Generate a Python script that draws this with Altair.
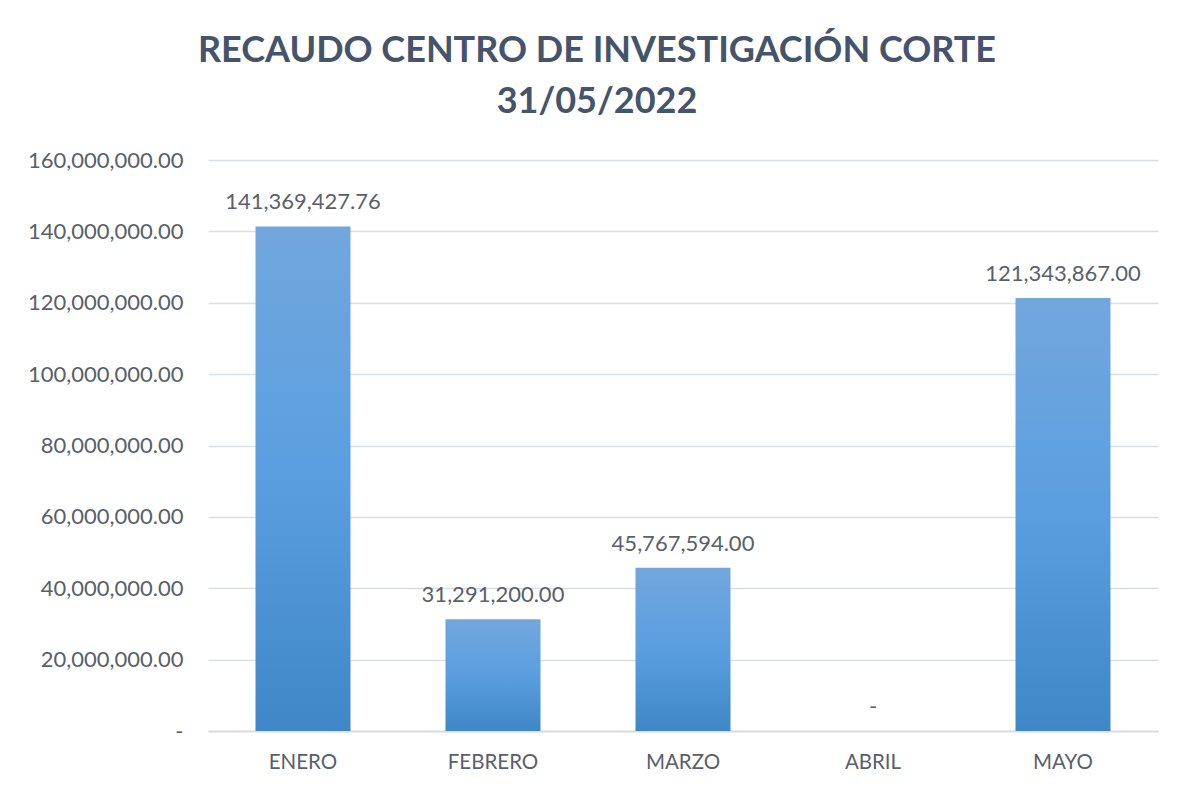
import altair as alt
import pandas as pd

months = ["ENERO", "FEBRERO", "MARZO", "ABRIL", "MAYO"]
values = [141369427.76, 31291200.00, 45767594.00, 0.0, 121343867.00]
y_ticks = [0, 20000000, 40000000, 60000000, 80000000, 100000000, 120000000, 140000000, 160000000]
title_lines = ["RECAUDO CENTRO DE INVESTIGACIÓN CORTE", "31/05/2022"]

df = pd.DataFrame({"mes": months, "valor": values})

FONT = "Lato"
LABEL_COLOR = "#595f6b"

base = alt.Chart(df).encode(
    x=alt.X("mes:N", sort=months, title=None,
            scale=alt.Scale(paddingInner=0.5, paddingOuter=0.25),
            axis=alt.Axis(labelAngle=0, labelFontSize=20.5, labelColor=LABEL_COLOR,
                          labelFont=FONT, ticks=False, domain=True, domainColor="#d9dde4",
                          domainWidth=2, labelPadding=21)),
    y=alt.Y("valor:Q", title=None,
            scale=alt.Scale(domain=[0, 160000000]),
            axis=alt.Axis(values=y_ticks, labelFontSize=22, labelColor=LABEL_COLOR,
                          labelFont=FONT, ticks=False, domain=False, labelPadding=25,
                          gridColor="#d9dde4", gridWidth=1.5,
                          labelExpr="datum.value == 0 ? '-' : format(datum.value, ',.2f')")),
)

bars = base.mark_bar(
    color=alt.Gradient(
        gradient="linear",
        stops=[alt.GradientStop(color="#72a7dd", offset=0),
               alt.GradientStop(color="#5a9ee0", offset=0.5),
               alt.GradientStop(color="#3f87c6", offset=1)],
        x1=0, x2=0, y1=0, y2=1,
    )
)

labels = base.transform_calculate(
    lab="datum.valor == 0 ? '-' : format(datum.valor, ',.2f')"
).mark_text(dy=-12, baseline="bottom", fontSize=22, font=FONT, color=LABEL_COLOR).encode(
    text="lab:N"
)

chart = (bars + labels).properties(
    width=950,
    height=571,
    padding={"left": 200, "top": 152, "right": 13, "bottom": 50},
    autosize=alt.AutoSizeParams(type="none"),
    title=alt.TitleParams(
        text=title_lines,
        font=FONT,
        fontSize=36,
        fontWeight="bold",
        color="#44546a",
        anchor="middle",
        dx=-86,
        offset=28,
        lineHeight=51,
    ),
).configure_view(stroke=None)

chart.save("out.html", embed_options={"renderer": "svg", "actions": False})
